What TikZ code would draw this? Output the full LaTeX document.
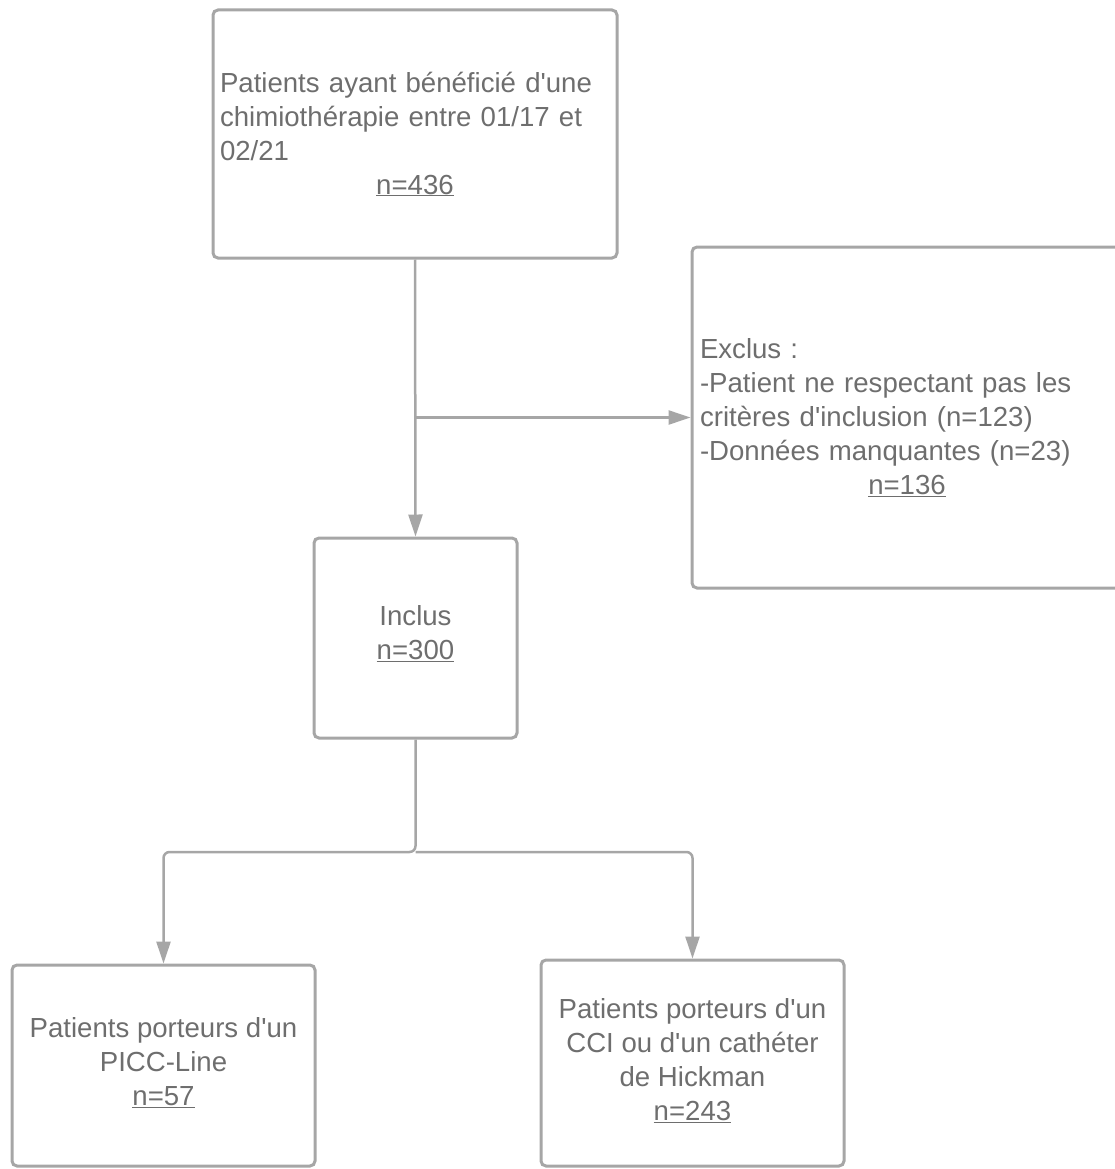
\documentclass[tikz,border=0pt]{standalone}
\usepackage{fontspec}
\setmainfont{Liberation Sans}
\usetikzlibrary{arrows.meta}
\definecolor{trait}{HTML}{A6A6A6}
\definecolor{texte}{HTML}{6E6E6E}
\newcommand{\apos}{\textquotesingle}

\begin{document}
\begin{tikzpicture}[x=1pt, y=-1pt,
    boite/.style={draw=trait, line width=3pt, rounded corners=5pt, text=texte,
      font=\fontsize{27.6}{34}\selectfont, inner sep=0pt},
    fleche/.style={draw=trait, line width=2.5pt, -{Triangle[length=22pt, width=14pt]}}]

    \useasboundingbox (0,0) rectangle (1115,1169);

    % boîtes
    \node[boite, minimum width=404pt, minimum height=248pt, text width=390pt, align=left] (debut) at (415,134)
    {Patients ayant bénéficié d\apos une\\ chimiothérapie entre 01/17 et\\ 02/21\\ \hspace*{\fill}\underline{n=436}\hspace*{\fill}};
    \node[boite, minimum width=430pt, minimum height=341pt, text width=414pt, align=left] (exclus) at (907,417.5)
    {Exclus :\\ -Patient ne respectant pas les\\ critères d\apos inclusion (n=123)\\ -Données manquantes (n=23)\\ \hspace*{\fill}\underline{n=136}\hspace*{\fill}};
    \node[boite, minimum width=203pt, minimum height=200pt, align=center] (inclus) at (415.5,638)
    {Inclus\\ \underline{n=300}\vspace*{8pt}};
    \node[boite, minimum width=303pt, minimum height=201pt, align=center] (picc) at (163.5,1065.5)
    {Patients porteurs d\apos un\\ PICC-Line\\ \underline{n=57}\vspace*{6pt}};
    \node[boite, minimum width=303pt, minimum height=206pt, align=center] (cci) at (692.5,1063)
    {Patients porteurs d\apos un\\ CCI ou d\apos un cathéter\\ de Hickman\\ \underline{n=243}\vspace*{4pt}};

    % flèches
    \coordinate (embr) at (debut.south |- exclus.west);
    \coordinate (fourche) at (415.5,852);
    \draw[fleche] (debut.south) -- (inclus.north);
    \draw[fleche] (embr) -- (exclus.west);
    \draw[fleche, rounded corners=6pt] (inclus.south) -- (fourche) -| (picc.north);
    \draw[fleche, rounded corners=6pt] (fourche) -| (cci.north);

\end{tikzpicture}
\end{document}
